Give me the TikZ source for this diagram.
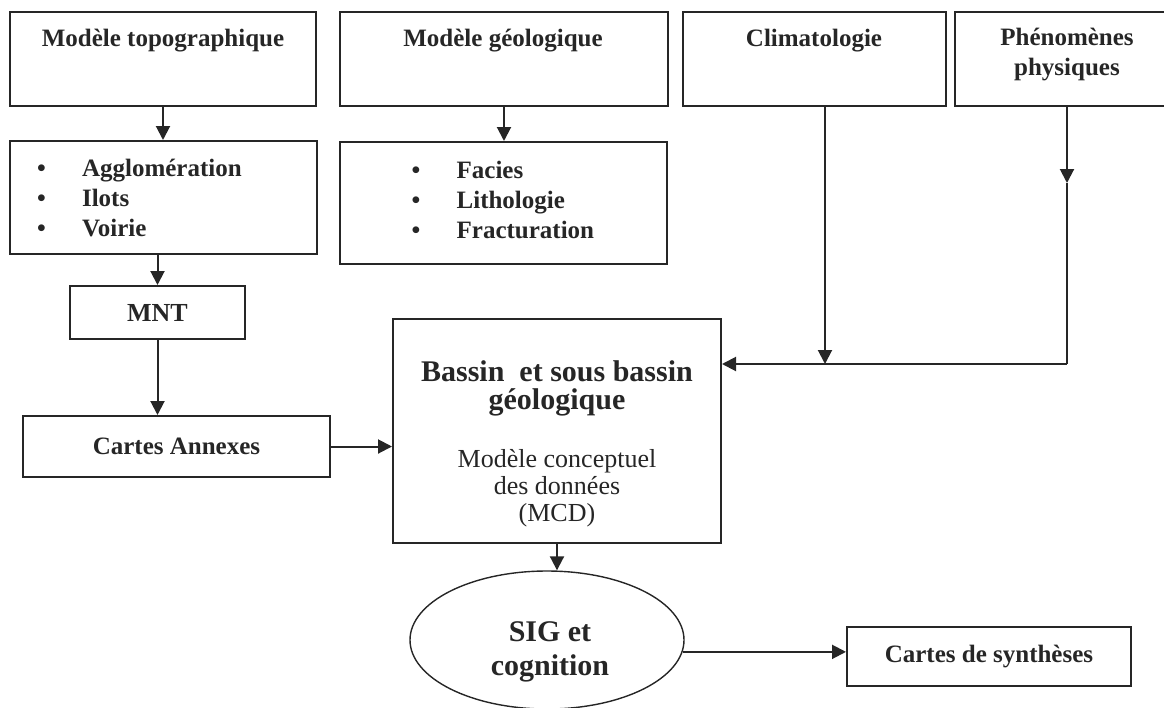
\documentclass[tikz,border=0pt]{standalone}
\usepackage{fontspec}
\setmainfont{Liberation Serif}
\usepackage{tikz}
\usetikzlibrary{positioning}
\usetikzlibrary{calc}
\usetikzlibrary{arrows.meta}
\usetikzlibrary{shapes.geometric}
\usepackage{xcolor}
\definecolor{trait}{HTML}{262626}
\newcommand{\puce}[1]{\makebox[22.5pt][l]{\textbullet}#1}

\begin{document}
\begin{tikzpicture}[x=0.5pt, y=-0.5pt,
    boite/.style={draw=trait, line width=1pt, inner sep=0pt, text=trait},
    titre/.style={font=\fontsize{12.5}{15}\selectfont\bfseries, text=trait, align=center},
    liste/.style={font=\fontsize{12.5}{15}\selectfont\bfseries, text=trait, align=left, anchor=west},
    fleche/.style={draw=trait, line width=1pt, -{Triangle[length=7pt, width=7pt]}}]

    \useasboundingbox (0,0) rectangle (1164,708);
    \clip (0,0) rectangle (1164,708);

    \node[boite, minimum width=153pt, minimum height=47pt] (topo) at (163,59) {};
    \node[boite, minimum width=164pt, minimum height=47pt] (geol) at (504,59) {};
    \node[boite, minimum width=131.5pt, minimum height=47pt] (clim) at (814.5,59) {};
    \node[boite, minimum width=112pt, minimum height=47pt] (phen) at (1067,59) {};
    \node[titre] (topotitre) at (163,41) {Modèle topographique};
    \node[titre] (geoltitre) at (503,41) {Modèle géologique};
    \node[titre] (climtitre) at (814,41) {Climatologie};
    \node[titre] (phentitre) at (1067,55) {Phénomènes\\physiques};

    \node[boite, minimum width=153.5pt, minimum height=56.5pt] (listtopo) at (163.5,197.5) {};
    \node[boite, minimum width=163.5pt, minimum height=61pt] (listgeol) at (503.5,203) {};
    \node[liste] (topoitems) at (30,198) {\puce{Agglomération}\\\puce{Ilots}\\\puce{Voirie}};
    \node[liste] (geolitems) at (404.6,200) {\puce{Facies}\\\puce{Lithologie}\\\puce{Fracturation}};

    \node[boite, titre, minimum width=87.5pt, minimum height=26.5pt, font=\fontsize{13}{15}\selectfont\bfseries] (mnt) at (157.5,312.5) {MNT};
    \node[boite, titre, minimum width=153.5pt, minimum height=30.5pt] (cartes) at (176.5,446.5) {Cartes Annexes};

    \node[boite, minimum width=164pt, minimum height=112pt] (bassin) at (557,431) {};
    \node[titre, font=\fontsize{15}{14}\selectfont\bfseries] (bassintitre) at (557,388) {Bassin\ \ et sous bassin\\géologique};
    \node[titre, font=\fontsize{13}{13.5}\selectfont] (bassinsous) at (557,488) {Modèle conceptuel\\des données\\(MCD)};

    \node[boite, ellipse, line width=0.7pt, minimum width=137pt, minimum height=69pt] (sig) at (547,640) {};
    \node[titre, font=\fontsize{15}{17}\selectfont\bfseries] (sigtxt) at (550,652) {SIG et\\cognition};
    \node[boite, titre, minimum width=142pt, minimum height=29.5pt] (synth) at (989,656.5) {Cartes de synthèses};

    \coordinate (climj) at (825,364);
    \coordinate (phenfl) at (1067,183);
    \coordinate (phenj) at (1067,364);

    \draw[fleche] (topo.south) -- (topo.south |- listtopo.north);
    \draw[fleche] (geol.south) -- (geol.south |- listgeol.north);
    \draw[fleche] (listtopo.south -| mnt.north) -- (mnt.north);
    \draw[fleche] (mnt.south) -- (mnt.south |- cartes.north);
    \draw[fleche] (cartes.east) -- (cartes.east -| bassin.west);
    \draw[fleche] (clim.south -| climj) -- (climj);
    \draw[fleche] (phen.south) -- (phenfl);
    \draw[draw=trait, line width=1pt] (phenfl) -- (phenj);
    \draw[fleche] (phenj) -- (phenj -| bassin.east);
    \draw[fleche] (bassin.south) -- (bassin.south |- sig.north);
    \draw[fleche] (sig.-5.5) -- (sig.-5.5 -| synth.west);
\end{tikzpicture}
\end{document}
